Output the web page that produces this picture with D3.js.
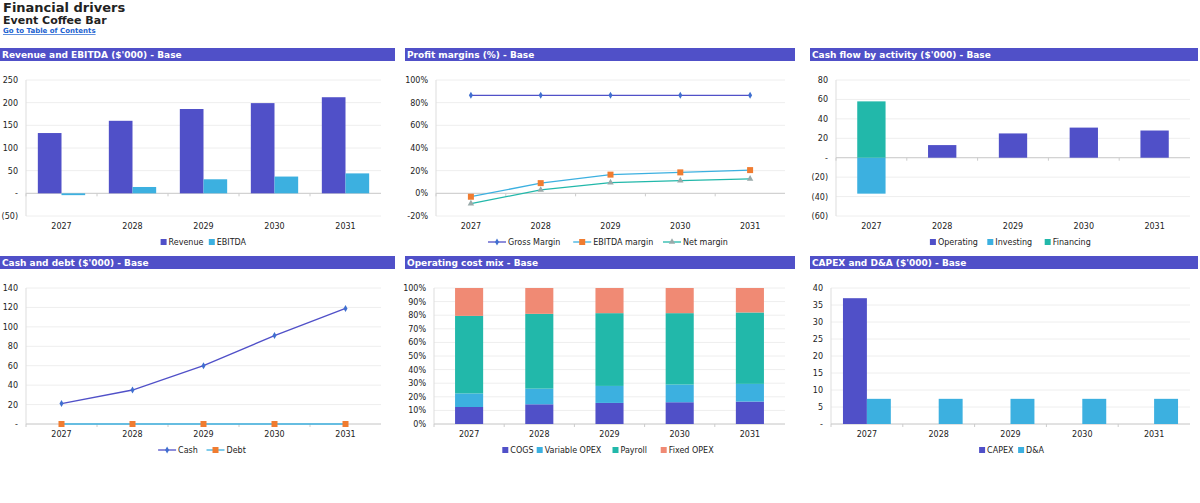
<!DOCTYPE html>
<html>
<head>
<meta charset="utf-8">
<script src="https://d3js.org/d3.v7.min.js"></script>
<style>
  body { margin: 0; background: #fff; font-family: Tahoma, "DejaVu Sans", sans-serif; }
  svg text { font-family: Tahoma, "DejaVu Sans", sans-serif; }
</style>
</head>
<body>
<svg id="chart" width="1200" height="503"></svg>
<script>
const years = ["2027", "2028", "2029", "2030", "2031"];
const revenue = [133, 160, 186, 199, 212];
const ebitda = [-4, 14, 31, 37, 44];
const grossMargin = [86.5, 86.5, 86.5, 86.5, 86.5];
const ebitdaMargin = [-3, 9, 16.5, 18.5, 20.5];
const netMargin = [-9, 3, 9.5, 11.3, 12.8];
const cfOperating = [0, 13, 25, 31, 28];
const cfInvesting = [-37, 0, 0, 0, 0];
const cfFinancing = [58, 0, 0, 0, 0];
const cash = [21, 35, 60, 91, 119];
const debt = [0, 0, 0, 0, 0];
const cogs = [12.5, 14.5, 15.5, 16, 16.5];
const varOpex = [10, 11.5, 12.5, 13, 13];
const payroll = [57, 55, 53.5, 52.5, 52.5];
const fixedOpex = [20.5, 19, 18.5, 18.5, 18];
const capex = [37, 0, 0, 0, 0];
const da = [7.4, 7.4, 7.4, 7.4, 7.4];

const C = { blue: "#5050c8", cyan: "#3cb0e0", teal: "#22b8aa", salmon: "#f08a74", orange: "#f07c30", gray: "#9aa" };
const svg = d3.select("#chart");

svg.append("text").attr("x", 3).attr("y", 12).attr("font-size", 13).attr("font-weight", "bold").attr("fill", "#222").text("Financial drivers");
svg.append("text").attr("x", 3).attr("y", 24).attr("font-size", 11).attr("font-weight", "bold").attr("fill", "#222").text("Event Coffee Bar");
svg.append("text").attr("x", 3).attr("y", 33).attr("font-size", 7).attr("font-weight", "bold").attr("fill", "#1a5fd0").attr("text-decoration", "underline").text("Go to Table of Contents");

const numFmt = v => v === 0 ? "-" : (v < 0 ? "(" + Math.abs(v) + ")" : String(v));
const pctFmt = v => v + "%";

function panel(p) {
  const g = svg.append("g");
  g.append("rect").attr("x", p.bx).attr("y", p.by).attr("width", p.bw).attr("height", 13).attr("fill", C.blue);
  g.append("text").attr("x", p.bx + 2).attr("y", p.by + 10).attr("font-size", 9).attr("font-weight", "bold").attr("fill", "#fff").text(p.title);
  const x = d3.scaleBand().domain(years).range([p.x0, p.x1]);
  const y = d3.scaleLinear().domain(p.domain).range([p.y1, p.y0]);
  p.ticks.forEach(t => {
    g.append("line").attr("x1", p.x0).attr("x2", p.x1).attr("y1", y(t)).attr("y2", y(t)).attr("stroke", "#eee");
    g.append("text").attr("x", p.x0 - 8).attr("y", y(t) + 3).attr("text-anchor", "end").attr("font-size", 8).attr("fill", "#222").text(p.fmt(t));
  });
  g.append("line").attr("x1", p.x0).attr("x2", p.x0).attr("y1", p.y0).attr("y2", p.y1).attr("stroke", "#ddd");
  const base = y(p.baseVal || 0);
  g.append("line").attr("x1", p.x0).attr("x2", p.x1).attr("y1", base).attr("y2", base).attr("stroke", "#ccc");
  years.forEach(yr => {
    g.append("line").attr("x1", x(yr)).attr("x2", x(yr)).attr("y1", base).attr("y2", base + 3).attr("stroke", "#ccc");
    g.append("text").attr("x", x(yr) + x.bandwidth() / 2).attr("y", p.y1 + 13).attr("text-anchor", "middle").attr("font-size", 8).attr("fill", "#222").text(yr);
  });
  // legend
  const items = p.legend;
  const widths = items.map(it => it.name.length * 4.6 + (it.line ? 24 : 10));
  const total = d3.sum(widths) + (items.length - 1) * 6;
  let lx = (p.x0 + p.x1) / 2 - total / 2;
  const ly = p.y1 + 26;
  items.forEach((it, i) => {
    if (it.line) {
      g.append("line").attr("x1", lx).attr("x2", lx + 18).attr("y1", ly).attr("y2", ly).attr("stroke", it.color).attr("stroke-width", 1.3);
      marker(g, it.marker, lx + 9, ly, it.mcolor || it.color);
      g.append("text").attr("x", lx + 20).attr("y", ly + 3).attr("font-size", 8).attr("fill", "#222").text(it.name);
    } else {
      g.append("rect").attr("x", lx).attr("y", ly - 3).attr("width", 6).attr("height", 6).attr("fill", it.color);
      g.append("text").attr("x", lx + 8).attr("y", ly + 3).attr("font-size", 8).attr("fill", "#222").text(it.name);
    }
    lx += widths[i] + 6;
  });
  return { g, x, y };
}

function marker(g, type, cx, cy, color) {
  if (type === "diamond") g.append("path").attr("d", d3.symbol(d3.symbolDiamond, 14)()).attr("transform", `translate(${cx},${cy})`).attr("fill", color);
  else if (type === "square") g.append("rect").attr("x", cx - 3).attr("y", cy - 3).attr("width", 6).attr("height", 6).attr("fill", color);
  else if (type === "triangle") g.append("path").attr("d", d3.symbol(d3.symbolTriangle, 18)()).attr("transform", `translate(${cx},${cy})`).attr("fill", color);
}

function bars(c, series, pad) {
  const inner = d3.scaleBand().domain(series.map((s, i) => i)).range([0, c.x.bandwidth()]).paddingInner(0).paddingOuter(pad);
  series.forEach((s, i) => {
    c.g.selectAll(null).data(s.values).enter().append("rect")
      .attr("x", (d, j) => c.x(years[j]) + inner(i))
      .attr("width", inner.bandwidth())
      .attr("y", d => c.y(Math.max(0, d)))
      .attr("height", d => Math.abs(c.y(d) - c.y(0)))
      .attr("fill", s.color);
  });
}

function lines(c, series) {
  series.forEach(s => {
    const pts = s.values.map((v, j) => [c.x(years[j]) + c.x.bandwidth() / 2, c.y(v)]);
    c.g.append("path").attr("d", d3.line()(pts)).attr("fill", "none").attr("stroke", s.color).attr("stroke-width", 1.3);
    pts.forEach(pt => marker(c.g, s.marker, pt[0], pt[1], s.mcolor || s.color));
  });
}

function stacked(c, series, pad) {
  const stack = d3.stack().keys(series.map((s, i) => i)).offset(d3.stackOffsetDiverging)(years.map((yr, j) => series.map(s => s.values[j])));
  const w = c.x.bandwidth() * (1 - 2 * pad);
  stack.forEach((layer, i) => {
    c.g.selectAll(null).data(layer).enter().append("rect")
      .attr("x", (d, j) => c.x(years[j]) + c.x.bandwidth() * pad)
      .attr("width", w)
      .attr("y", d => c.y(Math.max(d[0], d[1])))
      .attr("height", d => Math.abs(c.y(d[0]) - c.y(d[1])))
      .attr("fill", series[i].color);
  });
}

// 1 Revenue and EBITDA
const c1 = panel({ bx: 0, by: 48, bw: 395, title: "Revenue and EBITDA ($'000) - Base", x0: 26, x1: 381, y0: 80, y1: 216,
  domain: [-50, 250], ticks: [-50, 0, 50, 100, 150, 200, 250], fmt: numFmt,
  legend: [{ name: "Revenue", color: C.blue }, { name: "EBITDA", color: C.cyan }] });
bars(c1, [{ values: revenue, color: C.blue }, { values: ebitda, color: C.cyan }], 0.5);

// 2 Profit margins
const c2 = panel({ bx: 405, by: 48, bw: 390, title: "Profit margins (%) - Base", x0: 436, x1: 785, y0: 80, y1: 216,
  domain: [-20, 100], ticks: [-20, 0, 20, 40, 60, 80, 100], fmt: pctFmt,
  legend: [{ name: "Gross Margin", color: C.blue, line: true, marker: "diamond", mcolor: "#3f6fd0" },
           { name: "EBITDA margin", color: C.cyan, line: true, marker: "square", mcolor: C.orange },
           { name: "Net margin", color: C.teal, line: true, marker: "triangle", mcolor: C.gray }] });
lines(c2, [{ values: grossMargin, color: C.blue, marker: "diamond", mcolor: "#3f6fd0" },
           { values: ebitdaMargin, color: C.cyan, marker: "square", mcolor: C.orange },
           { values: netMargin, color: C.teal, marker: "triangle", mcolor: C.gray }]);

// 3 Cash flow
const c3 = panel({ bx: 810, by: 48, bw: 388, title: "Cash flow by activity ($'000) - Base", x0: 836, x1: 1190, y0: 80, y1: 216,
  domain: [-60, 80], ticks: [-60, -40, -20, 0, 20, 40, 60, 80], fmt: numFmt,
  legend: [{ name: "Operating", color: C.blue }, { name: "Investing", color: C.cyan }, { name: "Financing", color: C.teal }] });
stacked(c3, [{ values: cfOperating, color: C.blue }, { values: cfInvesting, color: C.cyan }, { values: cfFinancing, color: C.teal }], 0.3);

// 4 Cash and debt
const c4 = panel({ bx: 0, by: 256, bw: 395, title: "Cash and debt ($'000) - Base", x0: 26, x1: 381, y0: 288, y1: 424,
  domain: [0, 140], ticks: [0, 20, 40, 60, 80, 100, 120, 140], fmt: numFmt,
  legend: [{ name: "Cash", color: C.blue, line: true, marker: "diamond", mcolor: "#3f6fd0" },
           { name: "Debt", color: C.cyan, line: true, marker: "square", mcolor: C.orange }] });
lines(c4, [{ values: cash, color: C.blue, marker: "diamond", mcolor: "#3f6fd0" },
           { values: debt, color: C.cyan, marker: "square", mcolor: C.orange }]);

// 5 Operating cost mix
const c5 = panel({ bx: 405, by: 256, bw: 390, title: "Operating cost mix - Base", x0: 434, x1: 785, y0: 288, y1: 424,
  domain: [0, 100], ticks: d3.range(0, 101, 10), fmt: pctFmt,
  legend: [{ name: "COGS", color: C.blue }, { name: "Variable OPEX", color: C.cyan }, { name: "Payroll", color: C.teal }, { name: "Fixed OPEX", color: C.salmon }] });
stacked(c5, [{ values: cogs, color: C.blue }, { values: varOpex, color: C.cyan }, { values: payroll, color: C.teal }, { values: fixedOpex, color: C.salmon }], 0.3);

// 6 CAPEX and D&A
const c6 = panel({ bx: 810, by: 256, bw: 388, title: "CAPEX and D&A ($'000) - Base", x0: 831, x1: 1190, y0: 288, y1: 424,
  domain: [0, 40], ticks: [0, 5, 10, 15, 20, 25, 30, 35, 40], fmt: numFmt,
  legend: [{ name: "CAPEX", color: C.blue }, { name: "D&A", color: C.cyan }] });
bars(c6, [{ values: capex, color: C.blue }, { values: da, color: C.cyan }], 0.5);
</script>
</body>
</html>
